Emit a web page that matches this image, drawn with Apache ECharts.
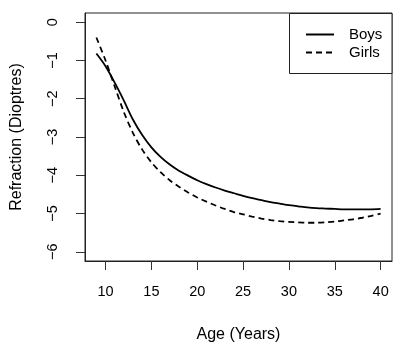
<!DOCTYPE html>
<meta charset="utf-8">
<style>
  html, body { margin: 0; padding: 0; background: #fff; }
  #container { width: 412px; height: 355px; }
</style>
<body>
<div id="container"></div>
<script src="https://cdn.jsdelivr.net/npm/echarts@6/dist/echarts.min.js"></script>
<script>

// ages 9..40, one value per year
var ages = [9, 10, 11, 12, 13, 14, 15, 16, 17, 18, 19, 20, 21, 22, 23, 24,
            25, 26, 27, 28, 29, 30, 31, 32, 33, 34, 35, 36, 37, 38, 39, 40];
var boys = [-0.82, -1.15, -1.58, -2.05, -2.55, -2.95, -3.27, -3.52, -3.72, -3.88, -4.01, -4.13, -4.23, -4.32, -4.40, -4.47,
            -4.54, -4.60, -4.65, -4.70, -4.74, -4.78, -4.81, -4.84, -4.86, -4.87, -4.88, -4.89, -4.89, -4.89, -4.89, -4.88];
var girls = [-0.40, -1.00, -1.68, -2.35, -2.90, -3.33, -3.66, -3.92, -4.13, -4.30, -4.45, -4.58, -4.69, -4.79, -4.88, -4.96,
             -5.02, -5.08, -5.13, -5.17, -5.20, -5.22, -5.23, -5.24, -5.24, -5.23, -5.21, -5.18, -5.15, -5.11, -5.06, -5.00];
var xTicks = [10, 15, 20, 25, 30, 35, 40];
var yTicks = [-6, -5, -4, -3, -2, -1, 0];

function pairs(vals) {
  return ages.map(function (a, i) { return [a, vals[i]]; });
}
function minus(v) {
  return String(v).replace('-', '\u2212');
}

var font = 'Liberation Sans, Arial, sans-serif';
var myChart = echarts.init(document.getElementById('container'), null, { renderer: 'canvas' });

var option = {
  animation: false,
  grid: {
    left: 85, top: 13, right: 20, bottom: 94,
    show: true, borderColor: '#222', borderWidth: 1
  },
  xAxis: {
    type: 'value',
    min: 7.76, max: 41.24,
    name: 'Age (Years)',
    nameLocation: 'middle',
    nameGap: 66,
    nameTextStyle: { fontFamily: font, fontSize: 16, color: '#000' },
    axisLine: { show: true, onZero: false, lineStyle: { color: '#222' } },
    splitLine: { show: false },
    axisTick: { show: true, length: 9, customValues: xTicks, lineStyle: { color: '#333', width: 1 } },
    axisLabel: { customValues: xTicks, margin: 23, fontFamily: font, fontSize: 14.5, color: '#000' }
  },
  yAxis: {
    type: 'value',
    min: -6.24, max: 0.24,
    name: 'Refraction (Dioptres)',
    nameLocation: 'middle',
    nameGap: 60,
    nameRotate: 90,
    nameTextStyle: { fontFamily: font, fontSize: 16, color: '#000' },
    axisLine: { show: true, onZero: false, lineStyle: { color: '#222' } },
    splitLine: { show: false },
    axisTick: { show: true, length: 9, customValues: yTicks, lineStyle: { color: '#333', width: 1 } },
    axisLabel: { customValues: yTicks, rotate: 90, margin: 25, fontFamily: font, fontSize: 14.5, color: '#000',
                 formatter: function (v) { return minus(v); } }
  },
  legend: {
    orient: 'vertical',
    left: 300, top: 22,
    z: 10,
    itemWidth: 28, itemHeight: 14, itemGap: 3,
    itemStyle: { opacity: 0 },
    textStyle: { fontFamily: font, fontSize: 15, color: '#000', padding: [0, 0, 0, 10] },
    data: ['Boys', 'Girls']
  },
  graphic: [{
    type: 'rect',
    shape: { x: 289.5, y: 13.5, width: 102.5, height: 60 },
    style: { fill: '#fff', stroke: '#222', lineWidth: 1 },
    z: 3
  }],
  series: [
    {
      name: 'Boys', type: 'line', symbol: 'none', smooth: 0.3,
      lineStyle: { color: '#000', width: 1.8 },
      itemStyle: { color: '#000' },
      data: pairs(boys)
    },
    {
      name: 'Girls', type: 'line', symbol: 'none', smooth: 0.3,
      lineStyle: { color: '#000', width: 1.8, type: [6, 4] },
      itemStyle: { color: '#000' },
      data: pairs(girls)
    }
  ]
};

myChart.setOption(option);
window.addEventListener('resize', myChart.resize);
</script>
</body>
